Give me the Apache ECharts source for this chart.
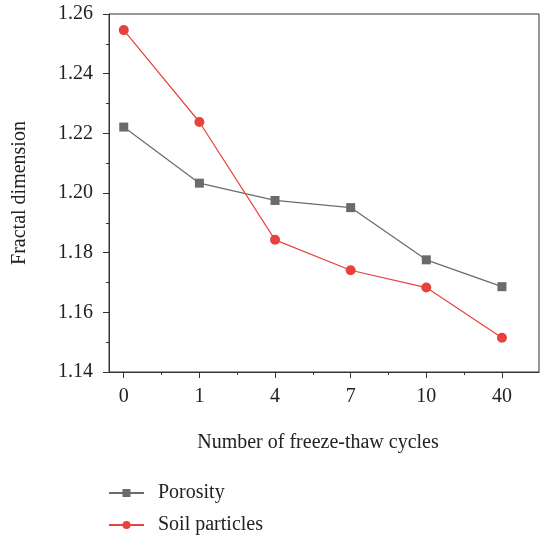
<!DOCTYPE html>
<html>
<head>
<meta charset="utf-8">
<script src="https://cdn.jsdelivr.net/npm/echarts@6/dist/echarts.min.js"></script>
<style>html,body{margin:0;padding:0;background:#fff;}#c{width:540px;height:540px;}</style>
</head>
<body>
<div id="c"></div>
<script>
const categories = ['0', '1', '4', '7', '10', '40'];
const porosity = [1.2221, 1.2033, 1.1975, 1.1951, 1.1776, 1.1686];
const soilParticles = [1.2546, 1.2238, 1.1843, 1.1741, 1.1683, 1.1515];
const yTicks = [1.14, 1.16, 1.18, 1.20, 1.22, 1.24, 1.26];

const idx = categories.map((c, i) => i);
const toPairs = arr => arr.map((v, i) => [i, v]);
const FONT = 'Liberation Serif';
const FS = 20;
const XMIN = -0.195, XMAX = 5.49;

const chart = echarts.init(document.getElementById('c'), null, {renderer: 'canvas'});
chart.setOption({
  animation: false,
  backgroundColor: '#fff',
  textStyle: {fontFamily: FONT},
  grid: {left: 109, top: 14, right: 1, bottom: 168, show: true, borderColor: '#333', borderWidth: 1, backgroundColor: 'transparent'},
  legend: {
    orient: 'vertical', left: 103, top: 478, itemWidth: 35, itemHeight: 10, itemGap: 12,
    textStyle: {fontFamily: FONT, fontSize: FS, color: '#222', padding: [0, 0, 0, 9]},
    data: ['Porosity', 'Soil particles']
  },
  xAxis: [{
    type: 'value', min: XMIN, max: XMAX,
    axisLine: {show: true, onZero: false, lineStyle: {color: '#333', width: 1}},
    splitLine: {show: false},
    axisTick: {show: true, inside: false, length: 6, customValues: idx, lineStyle: {color: '#333'}},
    axisLabel: {customValues: idx, margin: 15, fontFamily: FONT, fontSize: FS, color: '#222',
      formatter: v => categories[Math.round(v)]},
    name: 'Number of freeze-thaw cycles', nameLocation: 'middle', nameGap: 61,
    nameTextStyle: {fontFamily: FONT, fontSize: FS, color: '#222', padding: [0, 12, 0, 0]}
  }, {
    type: 'value', min: XMIN, max: XMAX, position: 'bottom',
    axisLine: {show: false, onZero: false}, splitLine: {show: false},
    axisTick: {show: true, inside: false, length: 3, customValues: [0.5, 1.5, 2.5, 3.5, 4.5], lineStyle: {color: '#333'}},
    axisLabel: {show: false}
  }],
  yAxis: {
    type: 'value', min: yTicks[0], max: yTicks[yTicks.length - 1], interval: 0.02,
    axisLine: {show: true, onZero: false, lineStyle: {color: '#333', width: 1}},
    splitLine: {show: false},
    axisTick: {show: true, inside: false, length: 6, lineStyle: {color: '#333'}},
    minorTick: {show: true, splitNumber: 2, length: 3, lineStyle: {color: '#333'}},
    axisLabel: {margin: 16, fontFamily: FONT, fontSize: FS, color: '#222', formatter: v => v.toFixed(2)},
    name: 'Fractal dimension', nameLocation: 'middle', nameGap: 79,
    nameTextStyle: {fontFamily: FONT, fontSize: FS, color: '#222'}
  },
  series: [{
    name: 'Porosity', type: 'line', data: toPairs(porosity),
    symbol: 'rect', symbolSize: 9,
    lineStyle: {color: '#6b6b6b', width: 1.2},
    itemStyle: {color: '#6b6b6b'}
  }, {
    name: 'Soil particles', type: 'line', data: toPairs(soilParticles),
    symbol: 'circle', symbolSize: 10,
    lineStyle: {color: '#e8423c', width: 1.2},
    itemStyle: {color: '#e8423c'}
  }]
});
</script>
</body>
</html>
